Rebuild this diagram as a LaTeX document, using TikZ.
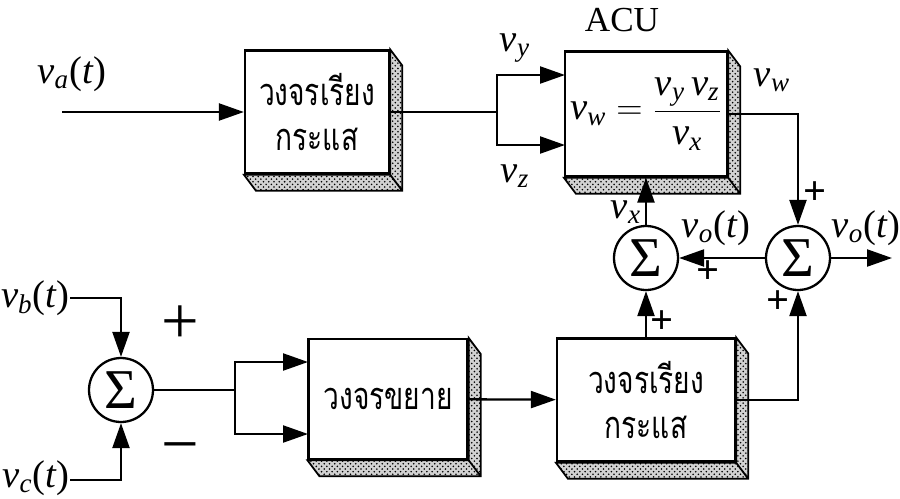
\documentclass[tikz,border=0pt]{standalone}
\usepackage{graphicx}
\usepackage{fontspec}
\setmainfont{Liberation Serif}
\newfontfamily\thaifont[Script=Thai]{Loma}
\usetikzlibrary{arrows.meta,patterns,positioning}

% signal names: italic v with an italic subscript
\newcommand{\vsig}[1]{\textit{v}\textsubscript{\textit{#1}}}
% thai block text, a little taller than the font
\newcommand{\thline}[1]{\scalebox{1}[1.35]{#1}}

\begin{document}
\begin{tikzpicture}[x=0.02cm, y=-0.02cm, line width=1.3pt, >={Triangle[length=0.5cm, width=0.34cm]}]
  \tikzstyle{block} = [draw, fill=white, rectangle, inner sep=0pt, align=center, font=\thaifont\fontsize{16}{26}\selectfont];
  \tikzstyle{sum} = [draw, circle, fill=white, minimum size=1.28cm, inner sep=0pt, font=\fontsize{32}{32}\selectfont];
  \tikzstyle{sig} = [inner sep=0pt, font=\fontsize{22}{24}\selectfont];
  \tikzstyle{plus} = [inner sep=0pt, font=\bfseries\fontsize{23}{23}\selectfont];
  \tikzstyle{sign} = [inner sep=0pt, font=\fontsize{38}{38}\selectfont];
  \tikzstyle{bevel} = [line width=1pt, preaction={fill=gray!35}, pattern=crosshatch dots, pattern color=black];

  \useasboundingbox (0,0) rectangle (900,498);

  % blocks
  \node [block, minimum width=2.88cm, minimum height=2.46cm] (recA) at (317,112) {\thline{วงจรเรียง}\\\thline{กระแส}};
  \node [block, minimum width=3.24cm, minimum height=2.5cm, font=\fontsize{22}{24}\selectfont] (acu) at (646,114)
        {$\vsig{w} = \displaystyle\frac{\vsig{y}\,\vsig{z}}{\vsig{x}}$};
  \node [block, minimum width=3.18cm, minimum height=2.4cm] (amp) at (388,399) {\thline{วงจรขยาย}};
  \node [block, minimum width=3.56cm, minimum height=2.46cm] (recB) at (646,400) {\thline{วงจรเรียง}\\\thline{กระแส}};

  % 3d edges of the blocks
  \foreach \b in {recA,acu,amp,recB}
    \draw [bevel] (\b.north east) -- ++(12,16) -- ([shift={(12,16)}]\b.south east)
      -- ([shift={(12,16)}]\b.south west) -- (\b.south west) -- (\b.south east) -- cycle
      (\b.south east) -- ++(12,16);

  % summing points
  \node [sum] (sumI) at (121,390) {Σ};
  \node [sum] (sumX) at (646,258) {Σ};
  \node [sum] (sumO) at (798,258) {Σ};

  \coordinate (inA) at (62,112);
  \coordinate (brA) at (497,112);
  \coordinate (acuY) at (565,75);
  \coordinate (acuZ) at (565,145);
  \coordinate (outO) at (892,258);
  \coordinate (inB) at (70,298);
  \coordinate (inC) at (70,480);
  \coordinate (brB) at (235,390);
  \coordinate (ampT) at (308,362);
  \coordinate (ampB) at (308,434);

  % connections
  \draw [->] (inA) -- (recA);
  \draw (recA) -- (brA);
  \draw [->] (brA) |- (acuY);
  \draw [->] (brA) |- (acuZ);
  \draw [->] (acu) -| (sumO);
  \draw [->] (sumO) -- (outO);
  \draw [->] (sumO) -- (sumX);
  \draw [->] (sumX) -- (acu);
  \draw [->] (recB) -- (sumX);
  \draw [->] (recB) -| (sumO);
  \draw [->] (amp) -- (recB);
  \draw (sumI) -- (brB);
  \draw [->] (brB) |- (ampT);
  \draw [->] (brB) |- (ampB);
  \draw [->] (inB) -| (sumI);
  \draw [->] (inC) -| (sumI);

  % labels
  \node [font=\fontsize{20}{22}\selectfont] (acuName) at (622,20) {ACU};
  \node [sig] (lblA) at (72,74) {\vsig{a}(\textit{t})};
  \node [sig] (lblY) at (515,48) {\vsig{y}};
  \node [sig] (lblZ) at (515,176) {\vsig{z}};
  \node [sig] (lblW) at (772,80) {\vsig{w}};
  \node [sig] (lblX) at (626,212) {\vsig{x}};
  \node [sig] (lblO1) at (716,228) {\vsig{o}(\textit{t})};
  \node [sig] (lblO2) at (866,228) {\vsig{o}(\textit{t})};
  \node [sig, anchor=east] (lblB) at (71,298) {\vsig{b}(\textit{t})};
  \node [sig, anchor=east] (lblC) at (71,478) {\vsig{c}(\textit{t})};

  \node [plus] (pW) at (815,193) {+};
  \node [plus] (pO) at (708,272) {+};
  \node [plus] (pR) at (662,322) {+};
  \node [plus] (pS) at (778,302) {+};
  \node [sign] (pB) at (180,325) {+};
  \node [sign] (mC) at (180,455) {−};
\end{tikzpicture}
\end{document}
